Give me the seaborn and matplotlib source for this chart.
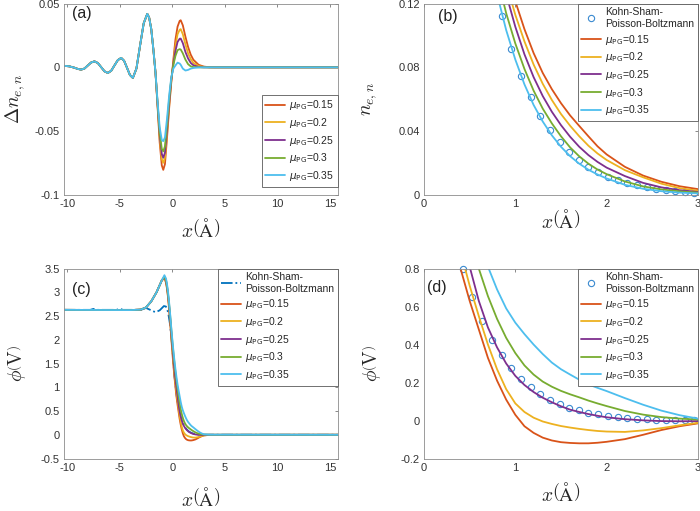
import pandas as pd
import matplotlib
matplotlib.use("Agg")
import matplotlib.pyplot as plt
import seaborn as sns

# ---------------- data ----------------
mu_labels = ["0.15", "0.2", "0.25", "0.3", "0.35"]
pg_colors = ["#D95319", "#EDB120", "#7E2F8E", "#77AC30", "#4DBEEE"]
ks_color = "#0072BD"
ks_marker_color = "#3a8ad0"
ks_label = "Kohn-Sham-\nPoisson-Boltzmann"

# (a) delta n_e,n : common left part, then one tail per mu_PG
x_a_common = [-10.3, -9.8, -9.3, -9.0, -8.67, -8.35, -8.03, -7.72, -7.4, -7.08, -6.77, -6.45, -6.13,
              -5.81, -5.5, -5.18, -4.86, -4.58, -4.3, -4.03, -3.75, -3.41, -3.07, -2.72, -2.38,
              -2.2, -2.0, -1.8, -1.6]
dn_common = [0.0012, 0.0008, -0.0003, -0.0012, -0.0018, -0.0009, 0.0015, 0.0038, 0.0047, 0.0034, 0.0002,
             -0.0031, -0.0044, -0.0027, 0.0015, 0.0057, 0.0074, 0.0051, -0.0005, -0.006, -0.0083,
             -0.0009, 0.0169, 0.0346, 0.042, 0.039, 0.030, 0.014, -0.004]
x_a_tail = [-1.4, -1.2, -1.0, -0.86, -0.7, -0.5, -0.3, -0.1, 0.1, 0.3, 0.5, 0.7, 0.8,
            1.0, 1.25, 1.5, 1.75, 2.0, 2.5, 3.0, 3.5, 4.0, 15.75]
dn_015 = [-0.031, -0.059, -0.077, -0.0805, -0.076, -0.055, -0.032, -0.012, 0.006, 0.022, 0.032, 0.0365, 0.037,
          0.033, 0.024, 0.016, 0.010, 0.006, 0.002, 0.0006, 0.0001, 0.0, 0.0]
dn_02 = [-0.030, -0.056, -0.072, -0.075, -0.071, -0.052, -0.030, -0.011, 0.004, 0.017, 0.026, 0.0295, 0.030,
         0.026, 0.018, 0.011, 0.0065, 0.0035, 0.001, 0.0003, 0.0, 0.0, 0.0]
dn_025 = [-0.029, -0.053, -0.068, -0.071, -0.067, -0.049, -0.028, -0.010, 0.003, 0.013, 0.020, 0.0225, 0.0226,
          0.019, 0.012, 0.007, 0.0035, 0.0017, 0.0003, 0.0, 0.0, 0.0, 0.0]
dn_03 = [-0.028, -0.051, -0.064, -0.066, -0.062, -0.045, -0.025, -0.009, 0.002, 0.009, 0.0135, 0.0143, 0.014,
         0.011, 0.006, 0.0025, 0.0008, 0.0002, 0.0, 0.0, 0.0, 0.0, 0.0]
dn_035 = [-0.027, -0.047, -0.057, -0.058, -0.055, -0.040, -0.022, -0.008, -0.001, 0.0015, 0.0037, 0.003, 0.002,
          -0.001, -0.0025, -0.002, -0.001, -0.0005, 0.0, 0.0, 0.0, 0.0, 0.0]

# (b) n_e,n
x_b = [0.8, 0.9, 1.0, 1.1, 1.2, 1.3, 1.4, 1.5, 1.6, 1.7, 1.8, 1.9, 2.0, 2.2, 2.4, 2.6, 2.8, 3.0]
n_015 = [0.166, 0.142, 0.1215, 0.104, 0.089, 0.0765, 0.0663, 0.0575, 0.0498, 0.0432, 0.0367, 0.0304, 0.0253,
         0.0175, 0.0120, 0.0081, 0.0053, 0.0035]
n_02 = [0.157, 0.133, 0.113, 0.0963, 0.0818, 0.0697, 0.0595, 0.0507, 0.0433, 0.0367, 0.0308, 0.0259, 0.0218,
        0.0154, 0.0109, 0.0069, 0.0041, 0.0025]
n_025 = [0.151, 0.126, 0.1055, 0.0882, 0.0739, 0.0620, 0.0521, 0.0437, 0.0364, 0.0301, 0.0249, 0.0206, 0.0170,
         0.0117, 0.0074, 0.0046, 0.0028, 0.0017]
n_03 = [0.137, 0.114, 0.095, 0.0790, 0.0654, 0.0541, 0.0448, 0.0367, 0.0297, 0.0241, 0.0195, 0.0158, 0.0129,
        0.0083, 0.0052, 0.0033, 0.0021, 0.0013]
n_035 = [0.126, 0.1034, 0.0849, 0.0693, 0.0564, 0.0460, 0.0373, 0.0301, 0.0242, 0.0195, 0.0157, 0.0127, 0.0102,
         0.0062, 0.0037, 0.0022, 0.0013, 0.0008]

# Kohn-Sham-Poisson-Boltzmann reference points (b, d)
x_ks = [0.43, 0.53, 0.64, 0.74, 0.85, 0.95, 1.06, 1.17, 1.27, 1.38, 1.49, 1.59, 1.70, 1.80, 1.91,
        2.01, 2.12, 2.22, 2.33, 2.44, 2.54, 2.65, 2.75, 2.86, 2.96]
ks_n = [0.112, 0.0917, 0.0748, 0.0612, 0.0496, 0.0407, 0.0331, 0.0268, 0.0216, 0.0174, 0.0140,
        0.0111, 0.0090, 0.0075, 0.0059, 0.0048, 0.0038, 0.0029, 0.0023, 0.0017, 0.0013]  # from x_ks[4:]
ks_phi = [0.800, 0.649, 0.526, 0.426, 0.345, 0.274, 0.218, 0.175, 0.140, 0.110, 0.088, 0.068, 0.054,
          0.042, 0.032, 0.025, 0.018, 0.013, 0.010, 0.007, 0.005, 0.004, 0.003, 0.002, 0.001]
x_ks_left = [-10.3, -7.8, -7.5, -7.2, -5.3, -5.0, -4.7, -3.0, -2.5, -2.0, -1.6, -1.2, -0.8, -0.6,
             -0.4, -0.2, 0.0, 0.2]
ks_phi_left = [2.63, 2.63, 2.65, 2.63, 2.63, 2.655, 2.63, 2.63, 2.67, 2.62, 2.58, 2.62, 2.71, 2.70,
               2.58, 2.30, 1.85, 1.25]

# (c, d) phi
x_phi_common = [-10.3, -4.0, -3.0, -2.5, -2.0, -1.5, -1.2, -1.0]
phi_common = [2.63, 2.625, 2.635, 2.68, 2.81, 3.0, 3.15, 3.25]
x_phi_tail = [-0.75, -0.6, -0.5, -0.4, -0.3, -0.2, -0.1, 0.0, 0.1, 0.2, 0.3, 0.4, 0.5, 0.6, 0.7, 0.8,
              0.9, 1.0, 1.1, 1.2, 1.3, 1.4, 1.5, 1.6, 1.7, 1.8, 1.9, 2.0, 2.2, 2.4, 2.6, 2.8, 3.0, 3.5, 15.75]
phi_015 = [3.30, 3.20, 3.07, 2.88, 2.63, 2.35, 2.05, 1.75, 1.47, 1.22, 1.00, 0.80, 0.63, 0.48, 0.33, 0.21,
           0.11, 0.03, -0.03, -0.065, -0.09, -0.105, -0.114, -0.118, -0.12, -0.12, -0.117, -0.112,
           -0.098, -0.075, -0.05, -0.03, -0.015, -0.002, 0.0]
phi_02 = [3.31, 3.22, 3.09, 2.90, 2.67, 2.40, 2.10, 1.82, 1.55, 1.30, 1.08, 0.89, 0.71, 0.55, 0.40, 0.27,
          0.165, 0.09, 0.045, 0.015, -0.005, -0.018, -0.029, -0.037, -0.044, -0.05, -0.055, -0.058,
          -0.06, -0.052, -0.04, -0.025, -0.012, -0.002, 0.0]
phi_025 = [3.32, 3.24, 3.11, 2.93, 2.70, 2.44, 2.16, 1.88, 1.62, 1.38, 1.17, 0.98, 0.81, 0.63, 0.49, 0.385,
           0.30, 0.235, 0.187, 0.15, 0.12, 0.096, 0.075, 0.057, 0.045, 0.034, 0.025, 0.017,
           0.007, 0.001, -0.003, -0.004, -0.003, 0.0, 0.0]
phi_03 = [3.33, 3.26, 3.13, 2.96, 2.74, 2.50, 2.23, 1.97, 1.73, 1.51, 1.31, 1.13, 0.96, 0.80, 0.655, 0.535,
          0.435, 0.355, 0.29, 0.242, 0.205, 0.178, 0.156, 0.138, 0.122, 0.105, 0.09, 0.076,
          0.05, 0.031, 0.018, 0.01, 0.005, 0.001, 0.0]
phi_035 = [3.36, 3.29, 3.17, 3.00, 2.78, 2.53, 2.26, 2.01, 1.78, 1.57, 1.38, 1.21, 1.06, 0.93, 0.81, 0.69,
           0.59, 0.515, 0.455, 0.40, 0.35, 0.305, 0.27, 0.242, 0.215, 0.19, 0.172, 0.155,
           0.118, 0.083, 0.052, 0.028, 0.01, 0.002, 0.0]

dn_tails = [dn_015, dn_02, dn_025, dn_03, dn_035]
n_curves = [n_015, n_02, n_025, n_03, n_035]
phi_tails = [phi_015, phi_02, phi_025, phi_03, phi_035]

# ---------------- long tables for seaborn ----------------
def long_table(x_lists, y_lists):
    rows = []
    for lab, xs, ys in zip(mu_labels, x_lists, y_lists):
        rows += [(lab, xv, yv) for xv, yv in zip(xs, ys)]
    return pd.DataFrame(rows, columns=["mu", "x", "y"])

df_a = long_table([x_a_common + x_a_tail] * 5, [dn_common + t for t in dn_tails])
df_b = long_table([x_b] * 5, n_curves)
df_phi = long_table([x_phi_common + x_phi_tail] * 5, [phi_common + t for t in phi_tails])

# ---------------- style ----------------
sns.set_theme(style="white")
plt.rcParams["font.family"] = ["Liberation Sans", "DejaVu Sans"]
plt.rcParams["axes.unicode_minus"] = False
plt.rcParams["mathtext.fontset"] = "dejavusans"

fig = plt.figure(figsize=(7, 5.11), dpi=100)
ax_a = fig.add_axes([0.0914, 0.619, 0.3914, 0.3738])
ax_b = fig.add_axes([0.6057, 0.619, 0.3914, 0.3738])
ax_c = fig.add_axes([0.0914, 0.1027, 0.3914, 0.3718])
ax_d = fig.add_axes([0.6057, 0.1027, 0.3914, 0.3718])

lw = 1.3
pg_names = [r"$\mu_{\mathrm{PG}}$=" + m for m in mu_labels]


def draw_pg(ax, df):
    for lab, col, name in zip(mu_labels, pg_colors, pg_names):
        sub = df[df["mu"] == lab]
        sns.lineplot(data=sub, x="x", y="y", color=col, lw=lw, estimator=None,
                     sort=False, label=name, ax=ax)


def draw_ks_circles(ax, xs, ys):
    # markers sit on the data, like MATLAB they are not cut at the axes edge
    sns.lineplot(x=xs, y=ys, ls="", marker="o", markersize=4.5, markerfacecolor="none",
                 markeredgecolor=ks_marker_color, markeredgewidth=0.8, estimator=None, sort=False,
                 clip_on=False, label=ks_label, ax=ax)


def finish(ax, xlim, ylim, xticks, yticks, ylabel, tag, tagpos, ylab_x, xlab_y):
    ax.set_xlim(*xlim)
    ax.set_ylim(*ylim)
    ax.set_xticks(xticks)
    ax.set_xticklabels([f"{v:g}" for v in xticks])
    ax.set_yticks(yticks)
    ax.set_yticklabels([f"{v:g}" for v in yticks])
    ax.tick_params(direction="in", length=2.5, width=0.5, top=True, right=True,
                   color="0.35", labelcolor="#333333", labelsize=8, pad=3)
    for s in ax.spines.values():
        s.set_color("0.55")
        s.set_linewidth(0.6)
    ax.set_xlabel(r"$x\left(\mathrm{\AA}\right)$", fontsize=14, math_fontfamily="cm")
    ax.set_ylabel(ylabel, fontsize=14, math_fontfamily="cm")
    ax.yaxis.label.set_verticalalignment("center")
    ax.xaxis.label.set_verticalalignment("center")
    ax.yaxis.set_label_coords(ylab_x, 0.5)
    ax.xaxis.set_label_coords(0.5, xlab_y)
    ax.text(tagpos[0], tagpos[1], tag, transform=ax.transAxes, fontsize=11.5,
            ha="left", va="top", color="#222222")


def legend(ax, **kw):
    leg = ax.legend(fontsize=7.5, frameon=True, fancybox=False, framealpha=1, edgecolor="0.35",
                    borderaxespad=0, handlelength=1.9, handletextpad=0.4, labelspacing=0.35,
                    borderpad=0.35, **kw)
    leg.get_frame().set_linewidth(0.6)
    leg.set_zorder(5)


# (a)
draw_pg(ax_a, df_a)
finish(ax_a, (-10.3, 15.75), (-0.1, 0.05), [-10, -5, 0, 5, 10, 15], [-0.1, -0.05, 0, 0.05],
       r"$\Delta n_{e,n}$", "(a)", (0.03, 0.99), -0.18, -0.18)
legend(ax_a, loc="lower right", bbox_to_anchor=(1.0, 0.042))

# (b)
draw_ks_circles(ax_b, x_ks[4:], ks_n)
draw_pg(ax_b, df_b)
finish(ax_b, (0, 3), (0, 0.12), [0, 1, 2, 3], [0, 0.04, 0.08, 0.12],
       r"$n_{e,n}$", "(b)", (0.05, 0.97), -0.2, -0.135)
legend(ax_b, loc="upper right")

# (c)
sns.lineplot(x=x_ks_left + x_ks + [15.75], y=ks_phi_left + ks_phi + [0.0], color=ks_color,
             lw=lw, ls="-.", estimator=None, sort=False, label=ks_label, ax=ax_c)
draw_pg(ax_c, df_phi)
finish(ax_c, (-10.3, 15.75), (-0.5, 3.5), [-10, -5, 0, 5, 10, 15],
       [-0.5, 0, 0.5, 1, 1.5, 2, 2.5, 3, 3.5],
       r"$\phi\left(\mathrm{V}\right)$", "(c)", (0.03, 0.93), -0.17, -0.21)
legend(ax_c, loc="upper right")

# (d)
draw_ks_circles(ax_d, x_ks, ks_phi)
draw_pg(ax_d, df_phi)
finish(ax_d, (0, 3), (-0.2, 0.8), [0, 1, 2, 3], [-0.2, 0, 0.2, 0.4, 0.6, 0.8],
       r"$\phi\left(\mathrm{V}\right)$", "(d)", (0.012, 0.94), -0.19, -0.185)
legend(ax_d, loc="upper right")

fig.savefig("out.png", dpi=100)
